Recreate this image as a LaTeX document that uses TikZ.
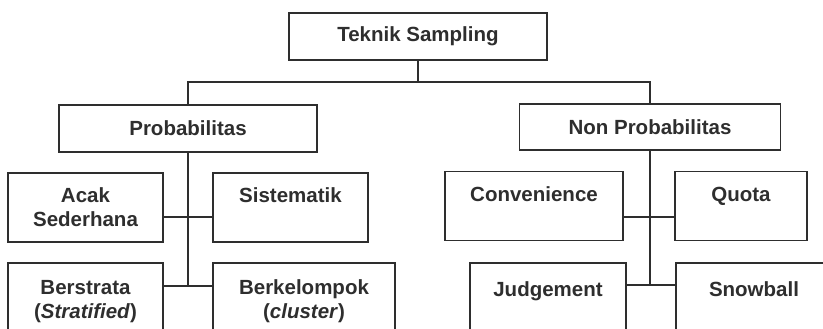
\documentclass[tikz,border=0pt]{standalone}
\usepackage{fontspec}
\setmainfont{Liberation Sans}
\usetikzlibrary{calc}
\definecolor{ink}{HTML}{2E2E2E}

\begin{document}
\begin{tikzpicture}[x=1pt, y=-1pt, line width=1.5pt,
  box/.style={draw=ink, rectangle, inner sep=0pt, align=center, text=ink,
    font=\fontsize{20.5}{24}\selectfont\bfseries},
  leafup/.style={box, minimum height=69},
  leafdown/.style={box, minimum height=77}]
  \useasboundingbox (0,0) rectangle (823,329);
  % kotak utama
  \node[box, minimum width=258, minimum height=47] (teknik) at (418,36.5) {Teknik Sampling};
  \node[box, minimum width=258, minimum height=47] (prob) at (188,128.5) {Probabilitas};
  \node[box, minimum width=261, minimum height=46] (nonprob) at (650,127) {Non Probabilitas};

  \node[leafup, minimum width=155] (acak) at (85.5,207.5) {Acak\\Sederhana};
  \node[leafup, minimum width=155] (sist) at (290.5,207.5) {Sistematik\\\mbox{}};
  \node[leafup, minimum width=178] (conv) at (534,206) {Convenience\\\mbox{}};
  \node[leafup, minimum width=132] (quota) at (741,206) {Quota\\\mbox{}};

  \node[leafdown, minimum width=155] (strata) at (85.5,301.5) {Berstrata\\(\textit{Stratified})};
  \node[leafdown, minimum width=182] (kelompok) at (304,301.5) {Berkelompok\\(\textit{cluster})};
  \node[leafdown, minimum width=156] (judge) at (548,301.5) {Judgement\\\mbox{}};
  \node[leafdown, minimum width=170] (snow) at (761,301.5) {Snowball\hspace*{14pt}\\\mbox{}};

  \coordinate (split) at (418,82);
  \coordinate (pa) at (188,217);
  \coordinate (pb) at (188,286);
  \coordinate (na) at (650,217);
  \coordinate (nb) at (650,285);

  \draw[ink] (teknik) -- (split);
  \draw[ink] (prob.north) |- (split) -| (nonprob.north);
  \draw[ink] (prob) -- (pb);
  \draw[ink] (nonprob) -- (nb);
  \foreach \l/\r/\j in {acak/sist/pa, strata/kelompok/pb, conv/quota/na, judge/snow/nb} {
    \draw[ink] (\l.east |- \j) -- (\r.west |- \j);
  }
\end{tikzpicture}
\end{document}
